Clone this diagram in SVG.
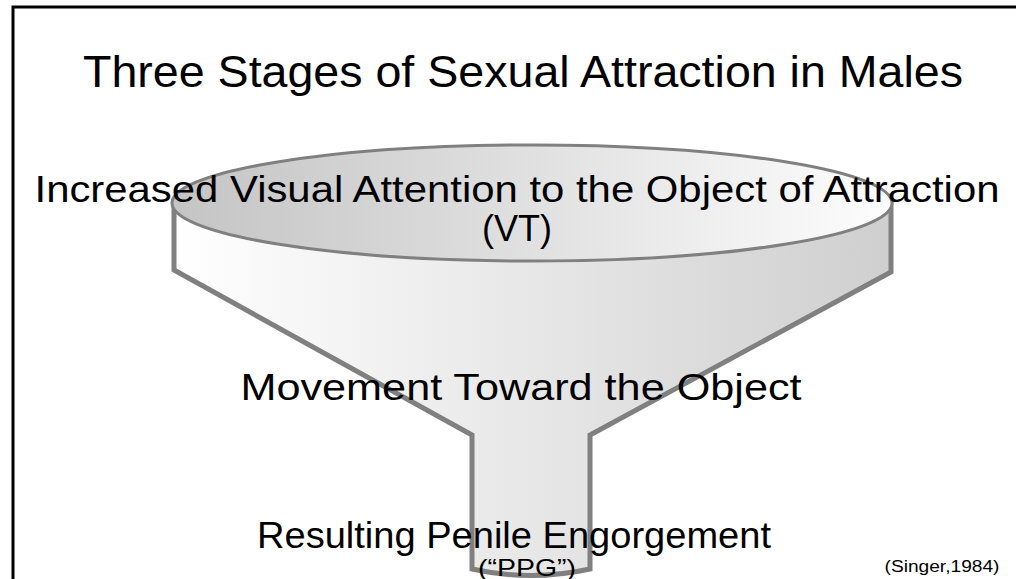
<svg xmlns="http://www.w3.org/2000/svg" width="1016" height="579" viewBox="0 0 1016 579">
<defs>
<style>
.t{font-family:"Liberation Sans","DejaVu Sans",sans-serif;fill:#000;text-anchor:middle}
</style>
<linearGradient id="body" x1="174" y1="0" x2="891" y2="0" gradientUnits="userSpaceOnUse">
<stop offset="0" stop-color="#ffffff"/>
<stop offset="1" stop-color="#cfcfcf"/>
</linearGradient>
<linearGradient id="top" x1="172" y1="0" x2="892" y2="0" gradientUnits="userSpaceOnUse">
<stop offset="0" stop-color="#c4c4c4"/>
<stop offset="1" stop-color="#fdfdfd"/>
</linearGradient>
</defs>
<rect width="1016" height="579" fill="#fff"/>
<path d="M13,600 V7 H1030" fill="none" stroke="#000" stroke-width="3"/>
<g id="funnel">
<path d="M174,204 L174,270 L472,435 L472,569 Q531,582 590,569 L590,435 L891,272 L891,204 Z" fill="url(#body)" stroke="#808080" stroke-width="5" stroke-linejoin="miter"/>
<ellipse cx="532" cy="203" rx="360" ry="58" fill="url(#top)" stroke="#808080" stroke-width="3"/>
</g>
<g id="title"><text class="t" x="523" y="87" font-size="45" textLength="880" lengthAdjust="spacingAndGlyphs">Three Stages of Sexual Attraction in Males</text></g>
<g id="stage1">
<text class="t" x="517" y="202" font-size="36" textLength="965" lengthAdjust="spacingAndGlyphs">Increased Visual Attention to the Object of Attraction</text>
<text class="t" x="517" y="241" font-size="36">(VT)</text>
</g>
<g id="stage2"><text class="t" x="521" y="400" font-size="36" textLength="561" lengthAdjust="spacingAndGlyphs">Movement Toward the Object</text></g>
<g id="stage3">
<text class="t" x="514" y="548" font-size="36" textLength="514" lengthAdjust="spacingAndGlyphs">Resulting Penile Engorgement</text>
<text class="t" x="527" y="576" font-size="24" textLength="98" lengthAdjust="spacingAndGlyphs">(“PPG”)</text>
</g>
<g id="citation"><text class="t" x="942" y="572" font-size="16" textLength="115" lengthAdjust="spacingAndGlyphs">(Singer,1984)</text></g>
</svg>
